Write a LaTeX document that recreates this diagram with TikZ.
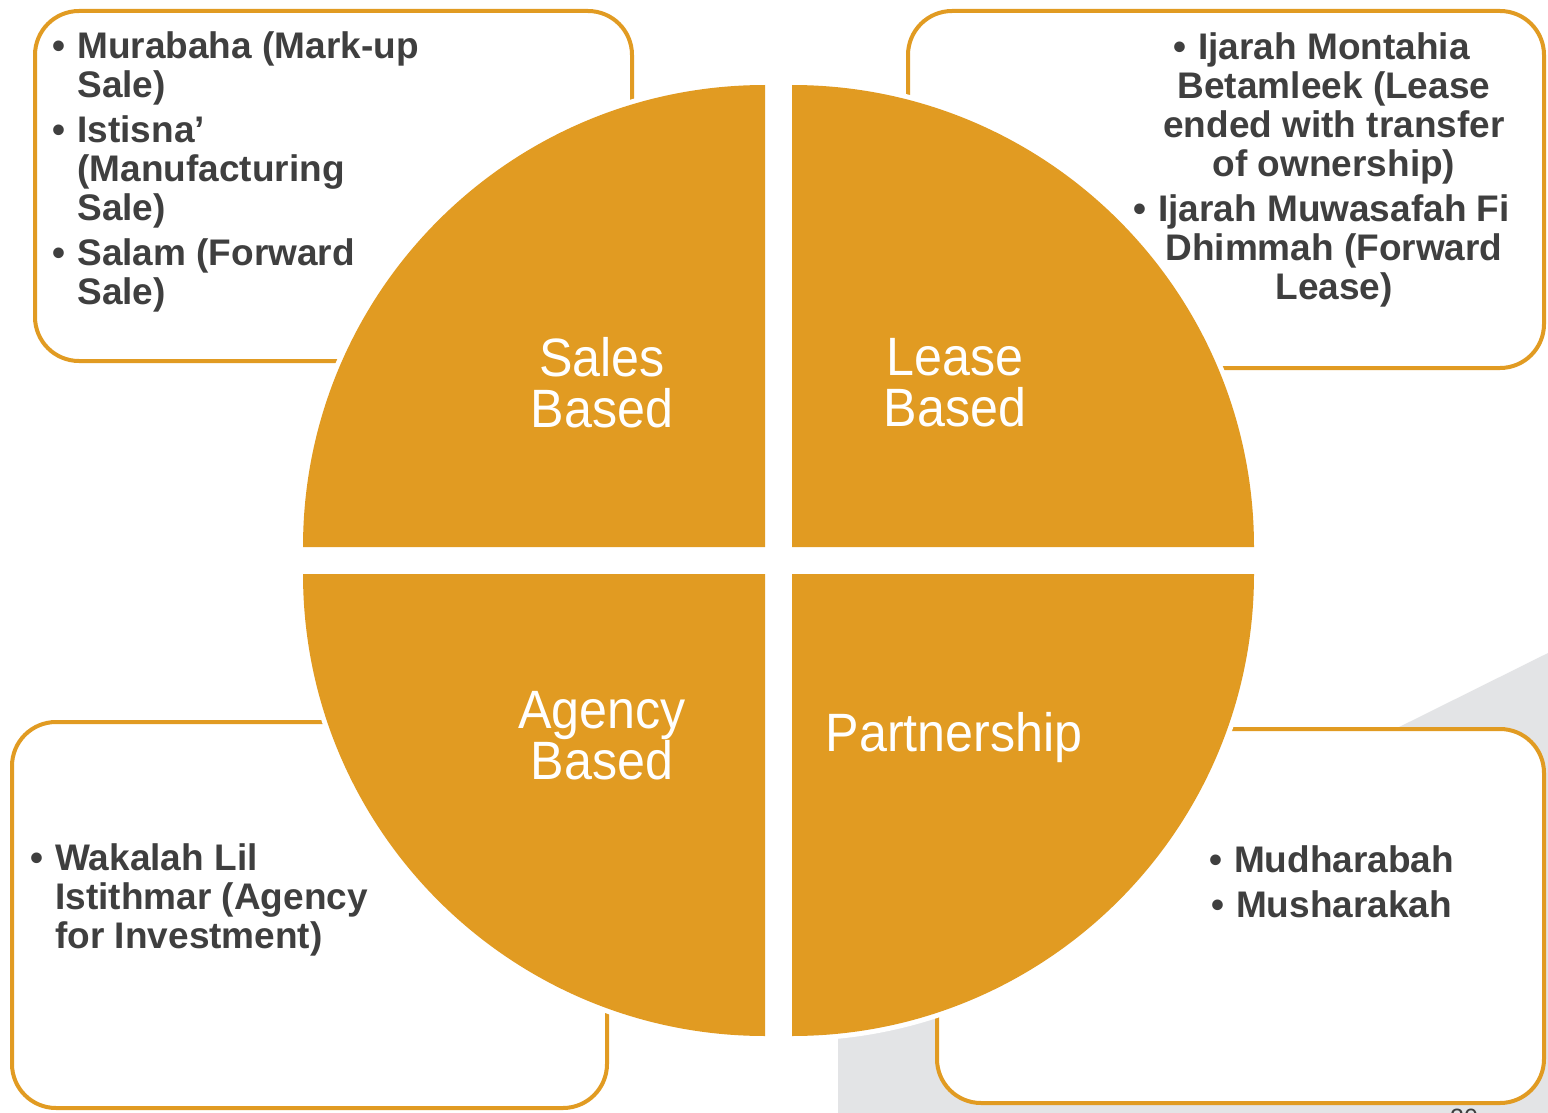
\documentclass[tikz,border=0pt]{standalone}
\usepackage{fontspec}
\setmainfont{Liberation Sans}
\newfontfamily\labelfont[FakeStretch=0.93]{Liberation Sans}
\definecolor{accent}{HTML}{E19B22}
\definecolor{ink}{HTML}{3F3F3F}
\definecolor{bggray}{HTML}{E3E4E6}
\newcommand\bul{\makebox[12.5pt][l]{\textbullet}}
\begin{document}
\begin{tikzpicture}[x=0.5pt,y=0.5pt,
  box/.style={draw=accent, line width=2pt, fill=white, rounded corners=22pt, inner sep=0pt},
  quadedge/.style={draw=white, line width=5pt},
  quadfill/.style={fill=accent},
  qlabel/.style={text=white, font=\labelfont\fontsize{27}{25.5}\selectfont, align=center, inner sep=0pt},
  items/.style={text=ink, font=\bfseries\fontsize{18.5}{19.5}\selectfont, inner sep=0pt},
  pagenum/.style={text=ink, font=\fontsize{12.5}{14}\selectfont, inner sep=0pt}]
\useasboundingbox (0,0) rectangle (1548,-1113);
\clip (0,0) rectangle (1548,-1113);
\fill[white] (0,0) rectangle (1548,-1113);
% background decoration
\fill[bggray] (838,-1113) -- (838,-1006) -- (1548,-653) -- (1548,-1113) -- cycle;
% boxes
\node[box, minimum width=298.5pt, minimum height=175pt] (boxtl) at (333.5,-186) {};
\node[box, minimum width=318pt, minimum height=178.5pt] (boxtr) at (1226,-189.5) {};
\node[box, minimum width=297.5pt, minimum height=193pt] (boxbl) at (309.5,-915) {};
\node[box, minimum width=303.5pt, minimum height=187pt] (boxbr) at (1240.5,-916) {};
% quadrants
\foreach \st in {quadedge,quadfill}{
  \path[\st] (765,-547) -- (303,-547) arc[start angle=180, end angle=90, radius=462] -- cycle;
  \path[\st] (792,-547) -- (792,-85) arc[start angle=90, end angle=0, radius=462] -- cycle;
  \path[\st] (765,-574) -- (303,-574) arc[start angle=180, end angle=270, radius=462] -- cycle;
  \path[\st] (792,-574) -- (1254,-574) arc[start angle=0, end angle=-90, radius=462] -- cycle;
}
% quadrant labels
\node[qlabel] (sales) at (602,-383) {Sales\\Based};
\node[qlabel] (lease) at (955,-383) {Lease\\Based};
\node[qlabel] (agency) at (602,-736) {Agency\\Based};
\node[qlabel] (partner) at (954,-738) {Partnership};
% box texts
\node[items, anchor=base west] (tltext) at (52,-59) {\begin{tabular}[t]{@{}l@{}l@{}}
\bul & Murabaha (Mark-up\\
 & Sale)\\[3pt]
\bul & Istisna’\\
 & (Manufacturing\\
 & Sale)\\[3pt]
\bul & Salam (Forward\\
 & Sale)
\end{tabular}};
\node[items, anchor=base] (trtext) at (1334,-60) {\begin{tabular}[t]{@{}c@{}}
\llap{\bul}Ijarah Montahia\\
Betamleek (Lease\\
ended with transfer\\
of ownership)\\[3pt]
\llap{\bul}Ijarah Muwasafah Fi\\
Dhimmah (Forward\\
Lease)
\end{tabular}};
\node[items, anchor=base west] (bltext) at (30,-870) {\begin{tabular}[t]{@{}l@{}l@{}}
\bul & Wakalah Lil\\
 & Istithmar (Agency\\
 & for Investment)
\end{tabular}};
\node[items, anchor=base] (brtext) at (1344,-872) {\begin{tabular}[t]{@{}c@{}}
\llap{\bul}Mudharabah\\[3pt]
\llap{\bul}Musharakah
\end{tabular}};
\node[pagenum, anchor=base] (page) at (1464,-1126) {20};
\end{tikzpicture}
\end{document}
